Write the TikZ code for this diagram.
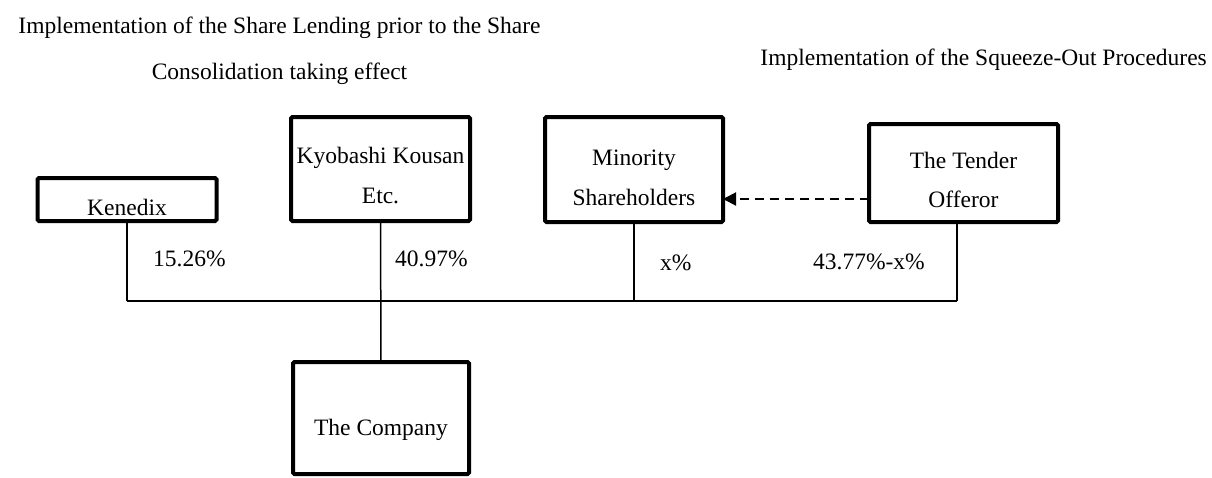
\documentclass[tikz,border=0pt]{standalone}
\usepackage{fontspec}
\setmainfont{Liberation Serif}
\usetikzlibrary{arrows.meta}
\begin{document}
\begin{tikzpicture}[x=1pt,y=-1pt,
  box/.style={draw, line width=4pt, rounded corners=1.5pt, inner sep=0pt, outer sep=0pt},
  txt/.style={font=\fontsize{23.5}{28}\selectfont, inner sep=0pt, anchor=base},
  link/.style={line width=1.5pt},
  dasharrow/.style={line width=2pt, dash pattern=on 9pt off 6pt, -{Triangle[length=13pt,width=13pt]}}]
\useasboundingbox (0,0) rectangle (1212,477);

% headings
\node[txt] (h1) at (279.5,33) {Implementation of the Share Lending prior to the Share};
\node[txt] (h2) at (279.5,79) {Consolidation taking effect};
\node[txt, anchor=base east] (h3) at (1207,65) {Implementation of the Squeeze-Out Procedures};

% boxes
\node[box, minimum width=179pt, minimum height=43pt] (ken) at (127,199.5) {};
\node[box, minimum width=179pt, minimum height=104pt] (kyo) at (380.5,169) {};
\node[box, minimum width=178pt, minimum height=105pt] (min) at (634,169.5) {};
\node[box, minimum width=189pt, minimum height=98pt] (ten) at (963.5,173) {};
\node[box, minimum width=176pt, minimum height=112pt] (com) at (381,418) {};

% box texts
\node[txt] (kent) at (127,215) {Kenedix};
\node[txt] (kyot1) at (380.5,163) {Kyobashi Kousan};
\node[txt] (kyot2) at (380.5,203) {Etc.};
\node[txt] (mint1) at (634,165) {Minority};
\node[txt] (mint2) at (634,205) {Shareholders};
\node[txt] (tent1) at (963.5,168) {The Tender};
\node[txt] (tent2) at (963.5,207) {Offeror};
\node[txt] (comt) at (381,435) {The Company};

% percentages
\node[txt, anchor=base west] (p1) at (153,266) {15.26\%};
\node[txt, anchor=base west] (p2) at (395,266) {40.97\%};
\node[txt, anchor=base west] (p3) at (660,270) {x\%};
\node[txt, anchor=base west] (p4) at (813,269) {43.77\%-x\%};

% bus
\coordinate (b1) at (127,301);
\coordinate (b4) at (957,301);
\draw[link] (b1) -- (b4);
\draw[link] (ken.south) -- (ken.south |- b1);
\draw[link] (kyo.south) -- (com.north);
\draw[link] (min.south) -- (min.south |- b1);
\draw[link] (b4 |- ten.south) -- (b4);

% dashed arrow
\coordinate (ds) at ([yshift=-26pt]ten.west);
\draw[dasharrow] (ds) -- (ds -| min.east);
\end{tikzpicture}
\end{document}
